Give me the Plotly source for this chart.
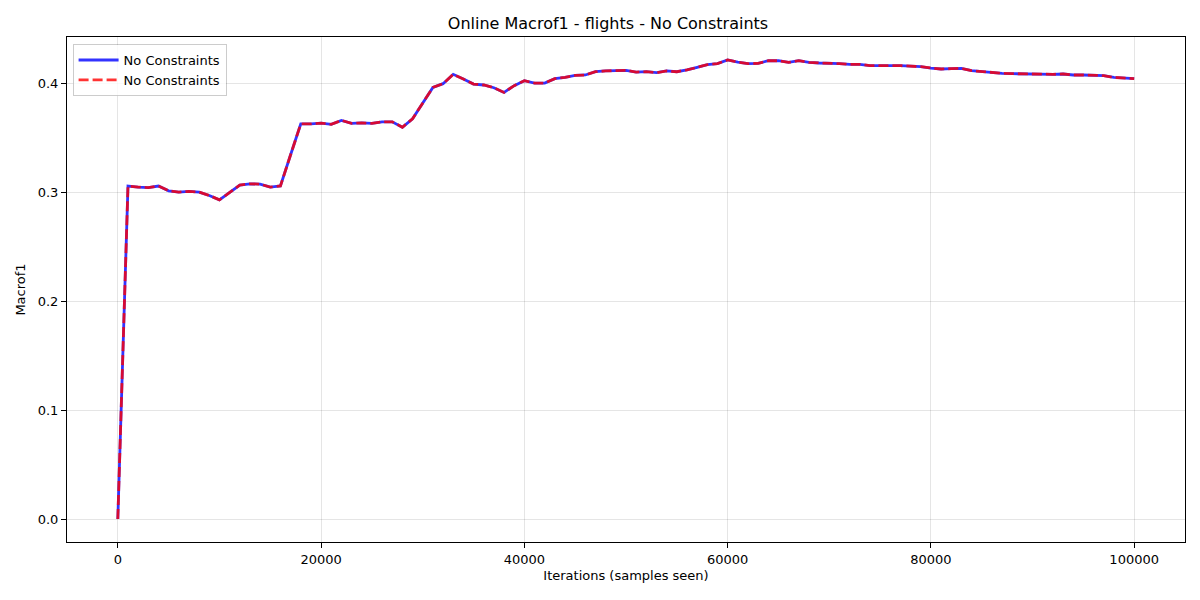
import plotly.graph_objects as go

# samples seen, every 1000 iterations
iterations = list(range(0, 101000, 1000))

macrof1 = [
    0.0, 0.306, 0.305, 0.3045, 0.306, 0.3016, 0.3004, 0.301, 0.3004, 0.2973,
    0.2933, 0.300, 0.3068, 0.308, 0.3077, 0.305, 0.306, 0.3347, 0.363, 0.363,
    0.3638, 0.3626, 0.3663, 0.3635, 0.364, 0.3635, 0.365, 0.365, 0.360, 0.3678,
    0.382, 0.3966, 0.400, 0.4086, 0.4043, 0.3997, 0.3988, 0.3963, 0.392, 0.3982,
    0.4028, 0.4006, 0.4006, 0.4046, 0.4058, 0.4076, 0.408, 0.411, 0.4117, 0.4117,
    0.4123, 0.4107, 0.411, 0.4101, 0.4117, 0.411, 0.4126, 0.415, 0.4175, 0.4184,
    0.4218, 0.4199, 0.4184, 0.4187, 0.4211, 0.4211, 0.4196, 0.4211, 0.4196, 0.419,
    0.419, 0.4184, 0.4178, 0.4178, 0.4166, 0.4163, 0.4166, 0.4166, 0.4163, 0.4156,
    0.4144, 0.4135, 0.4138, 0.4141, 0.412, 0.411, 0.4101, 0.4095, 0.4092, 0.4089,
    0.4092, 0.4086, 0.4086, 0.4089, 0.408, 0.408, 0.408, 0.4074, 0.4058, 0.4052,
    0.4046,
]

series_name = "No Constraints"
x_ticks = [0, 20000, 40000, 60000, 80000, 100000]
y_ticks = [0.0, 0.1, 0.2, 0.3, 0.4]

fig = go.Figure()

fig.add_trace(go.Scatter(
    x=iterations,
    y=macrof1,
    mode='lines',
    line=dict(color='rgba(0,0,255,0.8)', width=2.8),
    name=series_name
))

fig.add_trace(go.Scatter(
    x=iterations,
    y=macrof1,
    mode='lines',
    line=dict(color='rgba(255,0,0,0.8)', width=2.8, dash='10px,4px'),
    name=series_name
))

axis_style = dict(
    showline=True,
    linecolor='black',
    linewidth=1,
    mirror=True,
    ticks='outside',
    ticklen=5,
    tickcolor='black',
    showgrid=True,
    gridcolor='rgba(0,0,0,0.1)',
    gridwidth=1,
    zeroline=False,
    automargin=False,
    tickfont=dict(size=13, color='black'),
)

# page body adds an 8px offset, margins are set against that
fig.update_layout(
    width=1200,
    height=600,
    font=dict(family='DejaVu Sans', size=13, color='black'),
    title=dict(
        text='Online Macrof1 - flights - No Constraints',
        x=0.5, xanchor='center',
        y=1 - 15 / 600, yanchor='middle',
        font=dict(size=16, color='black')
    ),
    plot_bgcolor='white',
    paper_bgcolor='white',
    margin=dict(l=59, r=23, t=29, b=66),
    xaxis=dict(
        axis_style,
        range=[-5000, 105000],
        tickvals=x_ticks,
        ticktext=[str(v) for v in x_ticks],
        title=dict(text='Iterations (samples seen)', font=dict(size=13), standoff=5),
    ),
    yaxis=dict(
        axis_style,
        range=[-0.0211, 0.4429],
        tickvals=y_ticks,
        ticktext=[f"{v:.1f}" for v in y_ticks],
        title=dict(text='Macrof1', font=dict(size=13), standoff=9),
    ),
    legend=dict(
        x=0.005, y=0.986,
        xanchor='left', yanchor='top',
        bgcolor='rgba(255,255,255,0.8)',
        bordercolor='rgba(0,0,0,0.2)',
        borderwidth=1,
        font=dict(size=13),
        itemwidth=40,
        tracegroupgap=0,
    ),
)

fig.write_html("out.html")
